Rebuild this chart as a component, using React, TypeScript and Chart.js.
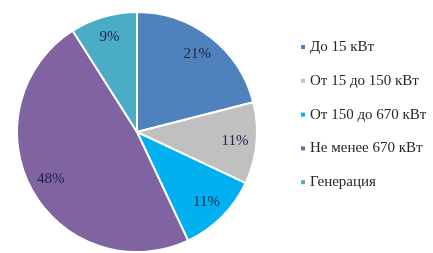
import React, { useEffect, useRef } from "react";
import { Chart, registerables } from "chart.js";

Chart.register(...registerables);

const categories = ["До 15 кВт", "От 15 до 150 кВт", "От 150 до 670 кВт", "Не менее 670 кВт", "Генерация"];
const shares = [21, 11, 11, 48, 9];
const colors = ["#4F81BD", "#C0C0C0", "#00B0F0", "#8064A2", "#4BACC6"];

const FONT = "'Liberation Serif', 'Times New Roman', serif";

const overlay = {
  id: "overlay",
  afterDatasetsDraw(chart: any) {
    const ctx = chart.ctx;
    const meta = chart.getDatasetMeta(0);
    ctx.save();
    ctx.font = `15px ${FONT}`;
    ctx.fillStyle = "#1A2444";
    ctx.textAlign = "center";
    ctx.textBaseline = "middle";
    meta.data.forEach((arc: any, i: number) => {
      const p = arc.getProps(["x", "y", "startAngle", "endAngle", "outerRadius"], true);
      const mid = (p.startAngle + p.endAngle) / 2;
      const r = p.outerRadius * 0.82;
      ctx.fillText(shares[i] + "%", p.x + Math.cos(mid) * r, p.y + Math.sin(mid) * r);
    });
    // legend
    const x0 = 301;
    const y0 = 47;
    const step = 33.8;
    ctx.textAlign = "left";
    categories.forEach((c, i) => {
      const y = y0 + i * step;
      ctx.fillStyle = colors[i];
      ctx.fillRect(x0, y - 2, 4, 4);
      ctx.fillStyle = "#262626";
      ctx.fillText(c, x0 + 9, y);
    });
    ctx.restore();
  },
};

export default function App() {
  const ref = useRef<HTMLCanvasElement>(null);
  useEffect(() => {
    document.body.style.margin = "0";
    const chart = new Chart(ref.current!, {
      type: "pie",
      data: {
        labels: categories,
        datasets: [
          {
            data: shares,
            backgroundColor: colors,
            borderColor: "#FFFFFF",
            borderWidth: 2,
          },
        ],
      },
      options: {
        animation: false,
        responsive: false,
        layout: { padding: { left: 15, top: 11, right: 174, bottom: -1 } },
        plugins: { legend: { display: false }, tooltip: { enabled: false } },
      },
      plugins: [overlay],
    });
    return () => chart.destroy();
  }, []);
  return (
    <div style={{ width: 433, height: 253, background: "#fff" }}>
      <canvas ref={ref} width={433} height={253} style={{ display: "block" }} />
    </div>
  );
}
